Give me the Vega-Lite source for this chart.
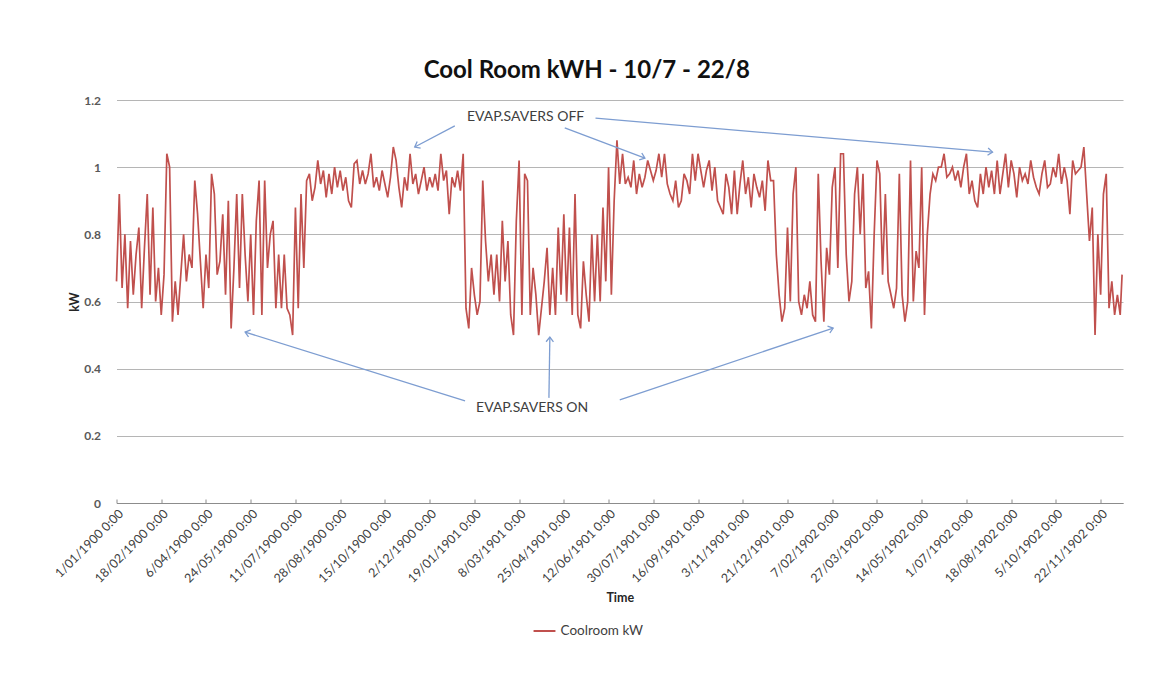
{
  "$schema": "https://vega.github.io/schema/vega-lite/v6.json",
  "autosize": {"type": "none"},
  "width": 1006.5,
  "height": 403,
  "padding": {"left": 116.5, "top": 100, "right": 48, "bottom": 187},
  "background": "#ffffff",
  "title": {"text": "Cool Room kWH - 10/7 - 22/8", "fontSize": 24, "fontWeight": "bold", "font": "Lato", "color": "#111111", "dx": -33, "offset": 11, "anchor": "middle"},
  "datasets": {
    "kw": [
      {"x":1,"y":0.66},{"x":4,"y":0.92},{"x":7,"y":0.64},{"x":10,"y":0.80},{"x":13,"y":0.58},{"x":16,"y":0.78},{"x":19,"y":0.62},{"x":22,"y":0.74},{"x":25,"y":0.82},{"x":28,"y":0.58},{"x":31,"y":0.76},{"x":34,"y":0.92},{"x":37,"y":0.62},{"x":40,"y":0.88},{"x":43,"y":0.60},{"x":46,"y":0.70},{"x":49,"y":0.56},{"x":52,"y":0.68},{"x":55,"y":1.04},{"x":58,"y":1.00},{"x":61,"y":0.54},{"x":64,"y":0.66},{"x":67,"y":0.56},{"x":70,"y":0.68},{"x":73,"y":0.80},{"x":76,"y":0.66},{"x":79,"y":0.74},{"x":82,"y":0.70},{"x":85,"y":0.96},{"x":88,"y":0.86},{"x":91,"y":0.72},{"x":94,"y":0.58},{"x":97,"y":0.74},{"x":100,"y":0.64},{"x":103,"y":0.98},{"x":106,"y":0.92},{"x":109,"y":0.68},{"x":112,"y":0.72},{"x":115,"y":0.86},{"x":118,"y":0.62},{"x":121,"y":0.90},{"x":124,"y":0.52},{"x":127,"y":0.70},{"x":130,"y":0.92},{"x":133,"y":0.64},
      {"x":136,"y":0.92},{"x":139,"y":0.74},{"x":142,"y":0.60},{"x":145,"y":0.80},{"x":148,"y":0.56},{"x":151,"y":0.84},{"x":154,"y":0.96},{"x":157,"y":0.56},{"x":160,"y":0.96},{"x":163,"y":0.70},{"x":166,"y":0.80},{"x":169,"y":0.84},{"x":172,"y":0.58},{"x":175,"y":0.74},{"x":178,"y":0.58},{"x":181,"y":0.74},{"x":184,"y":0.58},{"x":187,"y":0.56},{"x":190,"y":0.50},{"x":193,"y":0.88},{"x":196,"y":0.58},{"x":199,"y":0.92},{"x":202,"y":0.70},{"x":205,"y":0.96},{"x":208,"y":0.98},{"x":211,"y":0.90},{"x":214,"y":0.94},{"x":217,"y":1.02},{"x":220,"y":0.95},{"x":223,"y":0.99},{"x":226,"y":0.91},{"x":229,"y":0.98},{"x":232,"y":0.92},{"x":235,"y":1.00},{"x":238,"y":0.94},{"x":241,"y":0.99},{"x":244,"y":0.93},{"x":247,"y":0.97},{"x":250,"y":0.90},{"x":253,"y":0.88},{"x":256,"y":1.01},{"x":259,"y":1.02},{"x":262,"y":0.95},{"x":265,"y":0.99},
      {"x":268,"y":0.95},{"x":271,"y":0.98},{"x":274,"y":1.04},{"x":277,"y":0.94},{"x":280,"y":0.97},{"x":283,"y":0.93},{"x":286,"y":0.99},{"x":289,"y":0.95},{"x":292,"y":0.91},{"x":295,"y":0.97},{"x":298,"y":1.06},{"x":301,"y":1.02},{"x":304,"y":0.94},{"x":307,"y":0.88},{"x":310,"y":0.97},{"x":313,"y":0.93},{"x":316,"y":1.04},{"x":319,"y":0.95},{"x":322,"y":0.98},{"x":325,"y":0.92},{"x":328,"y":0.96},{"x":331,"y":1.00},{"x":334,"y":0.93},{"x":337,"y":0.97},{"x":340,"y":0.94},{"x":343,"y":0.98},{"x":346,"y":0.93},{"x":349,"y":1.04},{"x":352,"y":0.96},{"x":355,"y":0.99},{"x":358,"y":0.86},{"x":361,"y":0.97},{"x":364,"y":0.94},{"x":367,"y":0.99},{"x":370,"y":0.93},{"x":373,"y":1.04},{"x":376,"y":0.58},{"x":379,"y":0.52},{"x":382,"y":0.70},{"x":385,"y":0.62},{"x":388,"y":0.56},{"x":391,"y":0.60},{"x":394,"y":0.96},{"x":397,"y":0.78},{"x":400,"y":0.66},
      {"x":403,"y":0.74},{"x":406,"y":0.62},{"x":409,"y":0.74},{"x":412,"y":0.60},{"x":415,"y":0.84},{"x":418,"y":0.66},{"x":421,"y":0.78},{"x":424,"y":0.56},{"x":427,"y":0.50},{"x":430,"y":0.84},{"x":433,"y":1.02},{"x":436,"y":0.56},{"x":439,"y":0.98},{"x":442,"y":0.96},{"x":445,"y":0.56},{"x":448,"y":0.70},{"x":451,"y":0.62},{"x":454,"y":0.50},{"x":457,"y":0.58},{"x":460,"y":0.66},{"x":463,"y":0.76},{"x":466,"y":0.56},{"x":469,"y":0.70},{"x":472,"y":0.56},{"x":475,"y":0.82},{"x":478,"y":0.62},{"x":481,"y":0.86},{"x":484,"y":0.60},{"x":487,"y":0.82},{"x":490,"y":0.56},{"x":493,"y":0.92},{"x":496,"y":0.56},{"x":499,"y":0.52},{"x":502,"y":0.72},{"x":505,"y":0.62},{"x":508,"y":0.54},{"x":511,"y":0.80},{"x":514,"y":0.60},{"x":517,"y":0.80},{"x":520,"y":0.60},{"x":523,"y":0.88},{"x":526,"y":0.66},{"x":529,"y":1.00},{"x":532,"y":0.62},{"x":535,"y":0.90},
      {"x":538,"y":1.08},{"x":541,"y":0.95},{"x":544,"y":1.04},{"x":547,"y":0.95},{"x":550,"y":0.97},{"x":553,"y":0.94},{"x":556,"y":1.02},{"x":559,"y":0.92},{"x":562,"y":0.98},{"x":565,"y":0.94},{"x":568,"y":0.97},{"x":571,"y":1.02},{"x":574,"y":0.99},{"x":577,"y":0.96},{"x":580,"y":0.99},{"x":583,"y":1.04},{"x":586,"y":0.97},{"x":589,"y":1.04},{"x":592,"y":0.95},{"x":595,"y":0.92},{"x":598,"y":0.90},{"x":601,"y":0.96},{"x":604,"y":0.88},{"x":607,"y":0.90},{"x":610,"y":0.98},{"x":613,"y":0.96},{"x":616,"y":0.92},{"x":619,"y":1.04},{"x":622,"y":0.96},{"x":625,"y":1.04},{"x":628,"y":0.99},{"x":631,"y":0.94},{"x":634,"y":0.99},{"x":637,"y":1.02},{"x":640,"y":0.93},{"x":643,"y":1.00},{"x":646,"y":0.90},{"x":649,"y":0.88},{"x":652,"y":0.86},{"x":655,"y":0.98},{"x":658,"y":0.94},{"x":661,"y":0.86},{"x":664,"y":0.99},
      {"x":667,"y":0.86},{"x":670,"y":0.95},{"x":673,"y":1.02},{"x":676,"y":0.92},{"x":679,"y":0.97},{"x":682,"y":0.88},{"x":685,"y":0.98},{"x":688,"y":0.94},{"x":691,"y":0.91},{"x":694,"y":0.96},{"x":697,"y":0.87},{"x":700,"y":1.02},{"x":703,"y":0.96},{"x":706,"y":0.96},{"x":709,"y":0.74},{"x":712,"y":0.62},{"x":715,"y":0.54},{"x":718,"y":0.58},{"x":721,"y":0.82},{"x":724,"y":0.60},{"x":727,"y":0.92},{"x":730,"y":1.00},{"x":733,"y":0.60},{"x":736,"y":0.56},{"x":739,"y":0.62},{"x":742,"y":0.58},{"x":745,"y":0.66},{"x":748,"y":0.56},{"x":751,"y":0.54},{"x":754,"y":0.98},{"x":757,"y":0.72},{"x":760,"y":0.54},{"x":763,"y":0.76},{"x":766,"y":0.68},{"x":769,"y":0.94},{"x":772,"y":1.00},{"x":775,"y":0.70},{"x":778,"y":1.04},{"x":781,"y":1.04},{"x":784,"y":0.74},{"x":787,"y":0.60},{"x":790,"y":0.66},{"x":793,"y":0.92},{"x":796,"y":1.00},{"x":799,"y":0.80},{"x":802,"y":0.98},
      {"x":805,"y":0.64},{"x":808,"y":0.69},{"x":811,"y":0.52},{"x":814,"y":0.80},{"x":817,"y":1.02},{"x":820,"y":0.98},{"x":823,"y":0.68},{"x":826,"y":0.92},{"x":829,"y":0.66},{"x":832,"y":0.62},{"x":835,"y":0.58},{"x":838,"y":0.64},{"x":841,"y":0.98},{"x":844,"y":0.62},{"x":847,"y":0.54},{"x":850,"y":0.60},{"x":853,"y":1.02},{"x":856,"y":0.60},{"x":859,"y":0.75},{"x":862,"y":0.70},{"x":865,"y":1.00},{"x":868,"y":0.56},{"x":871,"y":0.80},{"x":874,"y":0.92},{"x":877,"y":0.98},{"x":880,"y":0.96},{"x":883,"y":1.00},{"x":886,"y":1.00},{"x":889,"y":1.04},{"x":892,"y":0.97},{"x":895,"y":0.98},{"x":898,"y":1.00},{"x":901,"y":0.96},{"x":904,"y":0.99},{"x":907,"y":0.94},{"x":910,"y":1.00},{"x":913,"y":1.04},{"x":916,"y":0.92},{"x":919,"y":0.96},{"x":922,"y":0.90},{"x":925,"y":0.88},{"x":928,"y":0.98},{"x":931,"y":0.92},{"x":934,"y":1.00},{"x":937,"y":0.94},
      {"x":940,"y":0.99},{"x":943,"y":0.92},{"x":946,"y":1.02},{"x":949,"y":0.92},{"x":952,"y":0.98},{"x":955,"y":1.04},{"x":958,"y":0.94},{"x":961,"y":1.02},{"x":964,"y":0.98},{"x":967,"y":0.91},{"x":970,"y":1.00},{"x":973,"y":0.96},{"x":976,"y":0.98},{"x":979,"y":0.95},{"x":982,"y":1.02},{"x":985,"y":0.97},{"x":988,"y":0.94},{"x":991,"y":0.92},{"x":994,"y":0.98},{"x":997,"y":1.02},{"x":1000,"y":0.94},{"x":1003,"y":0.95},{"x":1006,"y":1.00},{"x":1009,"y":0.97},{"x":1012,"y":1.04},{"x":1015,"y":0.95},{"x":1018,"y":1.00},{"x":1021,"y":0.96},{"x":1024,"y":0.86},{"x":1027,"y":1.02},{"x":1030,"y":0.98},{"x":1033,"y":0.99},{"x":1036,"y":1.00},{"x":1039,"y":1.06},{"x":1042,"y":0.92},{"x":1045,"y":0.78},{"x":1048,"y":0.88},{"x":1051,"y":0.50},{"x":1054,"y":0.80},{"x":1057,"y":0.62},{"x":1060,"y":0.92},{"x":1063,"y":0.98},{"x":1066,"y":0.58},{"x":1069,"y":0.66},{"x":1072,"y":0.56},{"x":1075,"y":0.62},{"x":1078,"y":0.56},{"x":1080,"y":0.68}
    ],
    "arrows": [
      {"x":364,"y":1.123,"x2":321,"y2":1.060},
      {"x":482,"y":1.117,"x2":568,"y2":1.027},
      {"x":515,"y":1.146,"x2":941,"y2":1.045},
      {"x":375,"y":0.304,"x2":139,"y2":0.509},
      {"x":465,"y":0.313,"x2":466,"y2":0.494},
      {"x":541,"y":0.307,"x2":770,"y2":0.521}
    ],
    "notes": [
      {"t":"EVAP.SAVERS OFF","x":440,"y":1.149},
      {"t":"EVAP.SAVERS ON","x":447,"y":0.283}
    ]
  },
  "layer": [
    {
      "data": {"name": "kw"},
      "mark": {"type": "line", "strokeWidth": 1.7, "interpolate": "linear"},
      "encoding": {
        "x": {"field": "x", "type": "quantitative", "title": "Time",
              "scale": {"domain": [1, 1081], "nice": false, "zero": false},
              "axis": {"values": [1,49,97,145,193,241,289,337,385,433,481,529,577,625,673,721,769,817,865,913,961,1009,1057],
                       "labelExpr": "timeFormat(datetime(1900, 0, datum.value < 60 ? datum.value : datum.value - 1), '%-d/%m/%Y 0:00')",
                       "labelAngle": -45, "labelOverlap": false, "labelBound": false, "labelFlush": false,
                       "grid": false, "domainColor": "#8c8c8c", "tickColor": "#8c8c8c", "tickSize": -4,
                       "labelPadding": 8, "labelFontSize": 12.5, "labelColor": "#404040", "labelFont": "Lato",
                       "titleFontSize": 12.5, "titleFontWeight": "bold", "titleColor": "#262626", "titlePadding": 7, "titleFont": "Lato"}},
        "y": {"field": "y", "type": "quantitative", "title": "kW",
              "scale": {"domain": [0, 1.2], "nice": false},
              "axis": {"values": [0,0.2,0.4,0.6,0.8,1,1.2], "format": "~g", "grid": true, "gridColor": "#b5b5b5",
                       "domain": false, "ticks": false, "labelPadding": 16, "labelFontSize": 12, "labelFontWeight": "bold",
                       "labelColor": "#595959", "labelFont": "Lato",
                       "titleFontSize": 12.5, "titleFontWeight": "bold", "titleColor": "#262626", "titlePadding": 2, "titleFont": "Lato"}},
        "color": {"datum": "Coolroom kW", "type": "nominal",
                  "scale": {"range": ["#c0504d"]},
                  "legend": {"orient": "none", "legendX": 416, "legendY": 519, "title": null, "direction": "horizontal",
                             "symbolType": "stroke", "symbolStrokeWidth": 2, "symbolSize": 480,
                             "labelFontSize": 13.5, "labelColor": "#404040", "labelFont": "Lato"}}
      }
    },
    {
      "data": {"name": "arrows"},
      "mark": {"type": "rule", "color": "#7d9dd1", "strokeWidth": 1.3},
      "encoding": {
        "x": {"field": "x", "type": "quantitative", "title": "Time"},
        "y": {"field": "y", "type": "quantitative", "title": "kW"},
        "x2": {"field": "x2"},
        "y2": {"field": "y2"}
      }
    },
    {
      "data": {"name": "arrows"},
      "transform": [{"calculate": "atan2((datum.x2 - datum.x) * 0.9323, (datum.y2 - datum.y) * 335.8) * 180 / PI", "as": "ang"}],
      "mark": {"type": "point", "shape": "M -0.7 0.9 L 0 0 L 0.7 0.9", "filled": false, "color": "#7d9dd1", "strokeWidth": 1.3, "size": 110, "opacity": 1},
      "encoding": {
        "x": {"field": "x2", "type": "quantitative", "title": "Time"},
        "y": {"field": "y2", "type": "quantitative", "title": "kW"},
        "angle": {"field": "ang", "type": "quantitative", "scale": null}
      }
    },
    {
      "data": {"name": "notes"},
      "mark": {"type": "text", "font": "Lato", "fontSize": 14, "color": "#404040", "align": "center", "baseline": "middle"},
      "encoding": {
        "x": {"field": "x", "type": "quantitative", "title": "Time"},
        "y": {"field": "y", "type": "quantitative", "title": "kW"},
        "text": {"field": "t"}
      }
    }
  ],
  "config": {"view": {"stroke": null}, "font": "Lato"}
}
